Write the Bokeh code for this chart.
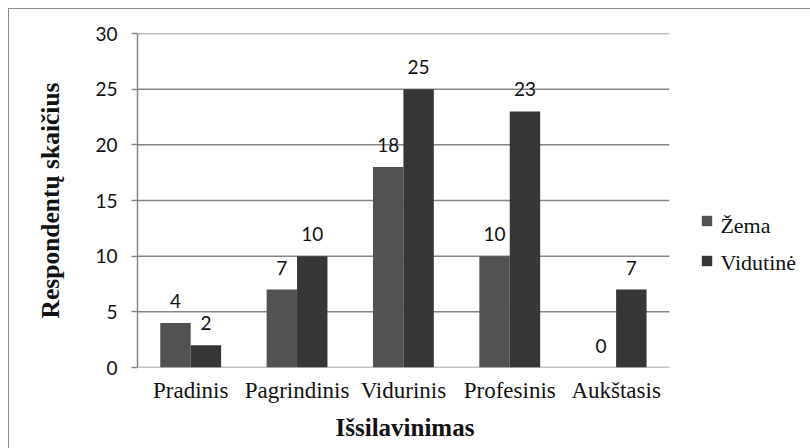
from bokeh.plotting import figure
from bokeh.models import (ColumnDataSource, FixedTicker, Legend, LegendItem,
                          LabelSet, Label, Range1d, Title)
from bokeh.core.properties import value
from bokeh.embed import file_html
from bokeh.resources import INLINE

categories = ["Pradinis", "Pagrindinis", "Vidurinis", "Profesinis", "Aukštasis"]
zema = [4, 7, 18, 10, 0]
vidutine = [2, 10, 25, 23, 7]
series_names = ["Žema", "Vidutinė"]
y_ticks = [0, 5, 10, 15, 20, 25, 30]
x_title = "Išsilavinimas"
y_title = "Respondentų skaičius"

n = len(categories)
centers = [i + 0.5 for i in range(n)]
bw = 0.286

src = ColumnDataSource(dict(xz=[c - bw / 2 for c in centers], xv=[c + bw / 2 for c in centers],
                            zema=zema, vid=vidutine,
                            zl=[str(v) for v in zema], vl=[str(v) for v in vidutine]))

# layout geometry (pixels)
W, H = 802, 440
ML, MR, MT, MB = 128, 8, 24, 82
Y_MAX = 30
cat_px = 531 / n                     # pixel width of one category slot
frame_w = (W - 1) - ML - MR
frame_h = (H - 1) - MT - MB
x_end = frame_w / cat_px
y_px = frame_h / Y_MAX               # pixels per y unit

p = figure(width=W, height=H, x_range=Range1d(0, x_end), y_range=Range1d(0, Y_MAX),
           output_backend="svg", toolbar_location=None,
           min_border_left=ML, min_border_right=MR, min_border_top=MT, min_border_bottom=MB)
p.styles = {"margin-left": "8px", "margin-top": "8px",
            "border-top": "1px solid #8c8c8c", "border-left": "1px solid #8c8c8c"}
p.outline_line_color = None
p.background_fill_color = "white"
p.border_fill_color = "white"

grid_col = "#868686"
p.xgrid.grid_line_color = None
p.ygrid.grid_line_color = None
p.segment(x0=[0] * len(y_ticks), x1=[n] * len(y_ticks), y0=y_ticks, y1=y_ticks,
          line_color=grid_col, line_width=1.5)

r1 = p.vbar(x="xz", top="zema", width=bw, source=src, fill_color="#525252", line_color=None)
r2 = p.vbar(x="xv", top="vid", width=bw, source=src, fill_color="#363636", line_color=None)

for xcol, col, lab in (("xz", "zema", "zl"), ("xv", "vid", "vl")):
    ls = LabelSet(x=xcol, y=col, text=lab, source=src,
                  y_offset=15, text_align="center", text_baseline="alphabetic",
                  text_font=value("Lato"), text_font_size=value("19px"),
                  text_color=value("#111111"))
    p.add_layout(ls)

p.yaxis.ticker = FixedTicker(ticks=y_ticks)
p.yaxis.minor_tick_line_color = None
p.yaxis.major_tick_in = 0
p.yaxis.major_tick_out = 6
p.yaxis.major_tick_line_color = grid_col
p.yaxis.major_tick_line_width = 1.5
p.yaxis.axis_line_color = grid_col
p.yaxis.axis_line_width = 1.5
p.yaxis.major_label_text_font = "Lato"
p.yaxis.major_label_text_font_size = "19px"
p.yaxis.major_label_text_color = "#111111"
p.yaxis.major_label_standoff = 14
p.yaxis.axis_label = y_title
p.yaxis.axis_label_text_font = "Liberation Serif"
p.yaxis.axis_label_text_font_style = "bold"
p.yaxis.axis_label_text_font_size = "25.5px"
p.yaxis.axis_label_text_color = "#111111"
p.yaxis.axis_label_standoff = 27

p.xaxis.ticker = FixedTicker(ticks=centers)
p.xaxis.major_label_overrides = {c: name for c, name in zip(centers, categories)}
p.xaxis.major_tick_line_color = None
p.xaxis.minor_tick_line_color = None
p.xaxis.axis_line_color = None
p.xaxis.major_label_text_font = "Liberation Serif"
p.xaxis.major_label_text_font_size = "23px"
p.xaxis.major_label_text_color = "#111111"
p.xaxis.major_label_standoff = 4

# axis title centred under the category area (not the whole frame)
xt = Title(text=x_title, align="left", offset=198, standoff=13,
           text_font="Liberation Serif", text_font_style="bold",
           text_font_size="25px", text_color="#111111")
p.add_layout(xt, "below")

# legend swatches (labels drawn separately)
LX, LY = 563, 93                      # legend position from frame bottom-left, px
GLYPH, STAND, ITEM_H, SPACING = 13, 6, 24, 13
legend = Legend(items=[LegendItem(label=series_names[0], renderers=[r1]),
                       LegendItem(label=series_names[1], renderers=[r2])],
                location=(LX, LY), padding=0, margin=0, spacing=SPACING,
                glyph_width=GLYPH, glyph_height=GLYPH, label_height=ITEM_H,
                label_standoff=STAND, label_text_font_size="23px",
                label_text_alpha=0, border_line_color=None,
                background_fill_alpha=0)
p.add_layout(legend, "center")

lab_x = (LX + GLYPH + STAND) / cat_px
for k, name in enumerate(series_names):
    centre_px = LY + (len(series_names) - 1 - k) * (ITEM_H + SPACING) + ITEM_H / 2
    p.add_layout(Label(x=lab_x, y=centre_px / y_px, text=name,
                       text_font="Liberation Serif", text_font_size="22px",
                       text_baseline="middle", text_align="left", text_color="#111111"))

open("out.html", "w").write(file_html(p, INLINE))
